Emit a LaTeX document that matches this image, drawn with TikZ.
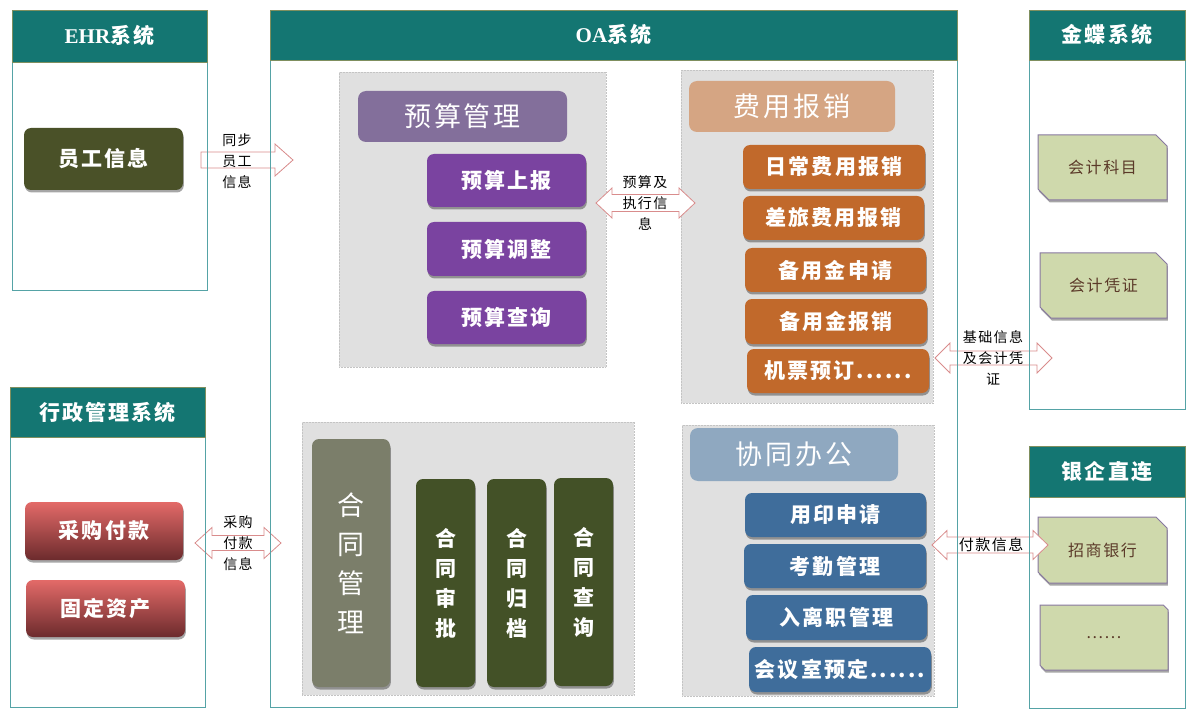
\documentclass[tikz,border=0pt]{standalone}
\usepackage{fontspec}
\setmainfont{Noto Sans CJK SC}[LetterSpace=10]
\newfontfamily\lserif{Liberation Serif}
\usetikzlibrary{shapes.misc,shadows}
\definecolor{tealh}{HTML}{147672}
\definecolor{framec}{HTML}{55A3A6}
\definecolor{headb}{HTML}{7F8F5F}
\definecolor{panelc}{HTML}{E0E0E0}
\definecolor{panelb}{HTML}{C4C4C4}
\definecolor{olivei}{HTML}{4A5128}
\definecolor{budh}{HTML}{836F9B}
\definecolor{purpi}{HTML}{7A43A0}
\definecolor{tanh}{HTML}{D5A583}
\definecolor{orgi}{HTML}{C1692B}
\definecolor{conh}{HTML}{7B7E6A}
\definecolor{coni}{HTML}{435127}
\definecolor{blueh}{HTML}{8FA8C0}
\definecolor{bluei}{HTML}{3F6D9B}
\definecolor{chipc}{HTML}{CFD9AC}
\definecolor{chipb}{HTML}{8878A0}
\definecolor{chipt}{HTML}{5B3A29}
\definecolor{redt}{HTML}{E36A68}
\definecolor{redb}{HTML}{6C2B2D}
\definecolor{arrowb}{HTML}{D98C8C}
% #1 left tip coordinate, #2 length, #3 body half, #4 head half, #5 head length
\newcommand\dblarrow[5]{\draw[barrow] (#1) -- ++(#5,-#4) -- ++(0,#4-#3) -- ++(#2-2*#5,0) -- ++(0,#3-#4) -- ++(#5,#4) -- ++(-#5,#4) -- ++(0,#3-#4) -- ++(-#2+2*#5,0) -- ++(0,#4-#3) -- cycle;}
% #1 tail centre coordinate
\newcommand\sglarrow[5]{\draw[barrow] (#1) ++(0,-#3) -- ++(#2-#5,0) -- ++(0,#3-#4) -- ++(#5,#4) -- ++(-#5,#4) -- ++(0,#3-#4) -- ++(-#2+#5,0) -- cycle;}
\begin{document}
\begin{tikzpicture}[x=1pt,y=-1pt,
  frame/.style={draw=framec,line width=0.8pt,inner sep=0pt},
  header/.style={draw=headb,fill=tealh,line width=0.6pt,text=white,inner sep=0pt,font=\fontsize{21}{21}\selectfont\bfseries},
  panel/.style={fill=panelc,draw=panelb,densely dotted,line width=0.5pt,inner sep=0pt},
  shd/.style={drop shadow={shadow xshift=0.8pt,shadow yshift=-2.5pt,opacity=0.35,fill=black}},
  item/.style={rounded corners=7pt,inner sep=0pt,text=white,shd,font=\fontsize{21}{21}\selectfont\bfseries},
  bighead/.style={rounded corners=8pt,inner sep=0pt,text=white,font=\fontsize{27}{27}\selectfont},
  vitem/.style={item,align=center,font=\fontsize{21}{30}\selectfont\bfseries},
  chip/.style={chamfered rectangle,chamfered rectangle corners={north east,south west},chamfered rectangle xsep=11pt,fill=chipc,draw=chipb,line width=1pt,text=chipt,inner sep=0pt,shd,font=\fontsize{16}{16}\selectfont},
  barrow/.style={draw=arrowb,fill=white,line width=0.8pt},
  lbl/.style={inner sep=0pt,align=center,font=\fontsize{14}{21}\selectfont}
]
\useasboundingbox (0,0) rectangle (1200,722);

% ---------- OA panels ----------
\node[panel,minimum width=267pt,minimum height=295pt] (p1) at (472.5,219.5) {};
\node[panel,minimum width=252pt,minimum height=333pt] (p2) at (807,236.5) {};
\node[panel,minimum width=332pt,minimum height=273pt] (p3) at (468,558.5) {};
\node[panel,minimum width=252pt,minimum height=271pt] (p4) at (808,560.5) {};

% budget
\node[bighead,fill=budh,minimum width=209pt,minimum height=51pt] (bud) at (462.5,116.5) {预算管理};
\node[item,fill=purpi,minimum width=159pt,minimum height=53pt] (bud1) at (506.5,180.5) {预算上报};
\node[item,fill=purpi,minimum width=159pt,minimum height=54pt] (bud2) at (506.5,249) {预算调整};
\node[item,fill=purpi,minimum width=159pt,minimum height=53pt] (bud3) at (506.5,317.5) {预算查询};

% expense
\node[bighead,fill=tanh,minimum width=206pt,minimum height=51pt] (exp) at (792,106.5) {费用报销};
\node[item,fill=orgi,minimum width=182pt,minimum height=44pt] (exp1) at (834,167) {日常费用报销};
\node[item,fill=orgi,minimum width=181pt,minimum height=44pt] (exp2) at (833.5,218) {差旅费用报销};
\node[item,fill=orgi,minimum width=181pt,minimum height=44pt] (exp3) at (835.5,270) {备用金申请};
\node[item,fill=orgi,minimum width=182pt,minimum height=45pt] (exp4) at (836,321.5) {备用金报销};
\node[item,fill=orgi,minimum width=182pt,minimum height=44pt] (exp5) at (838,371) {机票预订......};

% contract
\node[vitem,fill=conh,minimum width=78pt,minimum height=248pt,font=\fontsize{27}{39}\selectfont] (con) at (351,563) {合\\同\\管\\理};
\node[vitem,fill=coni,minimum width=59pt,minimum height=208pt] (con1) at (445.5,583) {合\\同\\审\\批};
\node[vitem,fill=coni,minimum width=59pt,minimum height=208pt] (con2) at (516.5,583) {合\\同\\归\\档};
\node[vitem,fill=coni,minimum width=59pt,minimum height=208pt] (con3) at (583.5,582) {合\\同\\查\\询};

% cooperation
\node[bighead,fill=blueh,minimum width=208pt,minimum height=53pt] (coo) at (794,454.5) {协同办公};
\node[item,fill=bluei,minimum width=181pt,minimum height=44pt] (coo1) at (835.5,515) {用印申请};
\node[item,fill=bluei,minimum width=182pt,minimum height=44pt] (coo2) at (835,566) {考勤管理};
\node[item,fill=bluei,minimum width=181pt,minimum height=45pt] (coo3) at (836.5,617.5) {入离职管理};
\node[item,fill=bluei,minimum width=182pt,minimum height=45pt] (coo4) at (840,669.5) {会议室预定......};

% ---------- outside systems ----------
\node[item,fill=olivei,minimum width=159pt,minimum height=62pt] (emp) at (103.5,159) {员工信息};
\node[item,top color=redt,bottom color=redb,minimum width=158pt,minimum height=58pt] (pur) at (104,531) {采购付款};
\node[item,top color=redt,bottom color=redb,minimum width=159pt,minimum height=57pt] (fix) at (105.5,608.5) {固定资产};
\node[chip,minimum width=129pt,minimum height=65pt] (acc1) at (1102.5,167.5) {会计科目};
\node[chip,minimum width=127pt,minimum height=65pt] (acc2) at (1103.5,285.5) {会计凭证};
\node[chip,minimum width=129pt,minimum height=66pt] (bank1) at (1102.5,550) {招商银行};
\node[chip,minimum width=128pt,minimum height=65pt] (bank2) at (1104,637.5) {......};

% ---------- block arrows ----------
\coordinate (a1) at (201,160);
\coordinate (a2) at (596,203);
\coordinate (a3) at (935,358);
\coordinate (a4) at (195,543);
\coordinate (a5) at (932,545);
\sglarrow{a1}{92}{8}{16}{18}
\dblarrow{a2}{99}{8.5}{15}{16}
\dblarrow{a3}{117}{7}{15}{15}
\dblarrow{a4}{86}{7.5}{15.5}{17}
\dblarrow{a5}{116}{8}{14.5}{15}

\node[lbl] (l1) at (237,161) {同步\\员工\\信息};
\node[lbl] (l2) at (645,203) {预算及\\执行信\\息};
\node[lbl] (l3) at (993,358) {基础信息\\及会计凭\\证};
\node[lbl] (l4) at (238,543) {采购\\付款\\信息};
\node[lbl,font=\fontsize{15}{15}\selectfont] (l5) at (991,545) {付款信息};

% ---------- frames ----------
\node[frame,minimum width=195pt,minimum height=280pt] (ehr) at (109.5,150) {};
\node[frame,minimum width=687pt,minimum height=697pt] (oa) at (613.5,358.5) {};
\node[frame,minimum width=195pt,minimum height=320pt] (adm) at (107.5,547) {};
\node[frame,minimum width=156pt,minimum height=399pt] (kd) at (1107,209.5) {};
\node[frame,minimum width=156pt,minimum height=262pt] (bk) at (1107,577) {};

\node[header,minimum width=195pt,minimum height=52pt] (ehrh) at (109.5,36) {{\lserif\bfseries EHR}系统};
\node[header,minimum width=687pt,minimum height=50pt] (oah) at (613.5,35) {{\lserif\bfseries OA}系统};
\node[header,minimum width=195pt,minimum height=50pt] (admh) at (107.5,412) {行政管理系统};
\node[header,minimum width=156pt,minimum height=50pt] (kdh) at (1107,35) {金蝶系统};
\node[header,minimum width=156pt,minimum height=51pt] (bkh) at (1107,471.5) {银企直连};
\end{tikzpicture}
\end{document}
